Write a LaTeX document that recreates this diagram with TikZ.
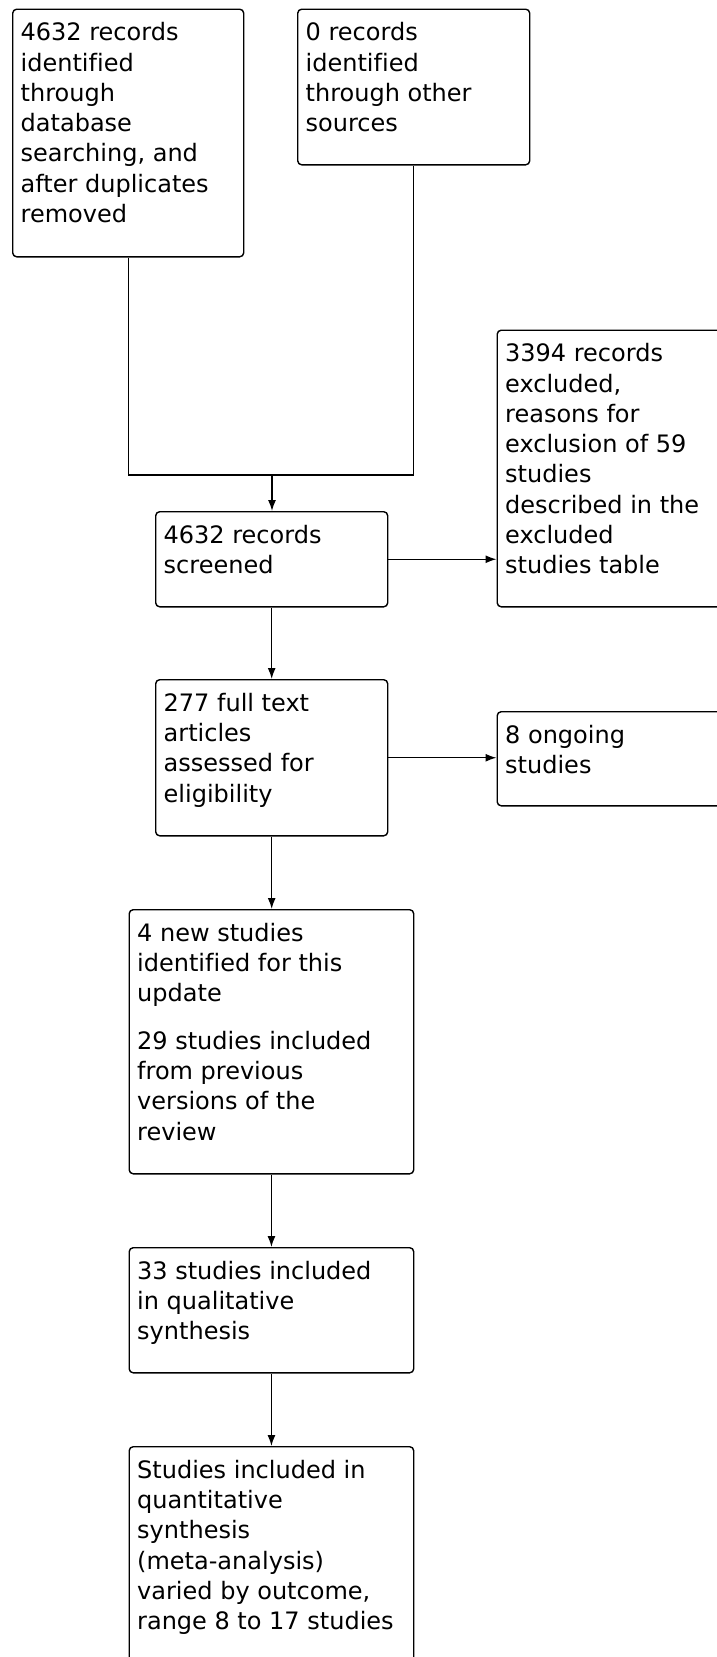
\documentclass[tikz,border=0pt]{standalone}
\usepackage{fontspec}
\setmainfont[Ligatures=NoCommon]{DejaVu Sans}
\usetikzlibrary{arrows.meta}

\begin{document}
\begin{tikzpicture}[x=1pt,y=-1pt,
    flowbox/.style={draw=black, line width=1.4pt, rounded corners=4pt, anchor=north west,
      inner xsep=8pt, inner ysep=10.3pt, font=\fontsize{24}{30.3}\selectfont},
    flowarrow/.style={line width=1.4pt, -{Latex[length=11pt,width=8pt]}}]
  \useasboundingbox (0,0) rectangle (716,1657);

  \node[flowbox] (recA) at (12,8.5) {\parbox[t][227pt][t]{215pt}{\raggedright\strut 4632 records\\ identified\\ through\\ database\\ searching, and\\ after duplicates\\ removed}};
  \node[flowbox] (recB) at (297,8.5) {\parbox[t][135pt][t]{216pt}{\raggedright\strut 0 records\\ identified\\ through other\\ sources}};
  \node[flowbox] (screen) at (155,511) {\parbox[t][74.5pt][t]{216pt}{\raggedright\strut 4632 records\\ screened}};
  \node[flowbox] (excl) at (496.5,329.5) {\parbox[t][256pt][t]{224pt}{\raggedright\strut 3394 records\\ excluded,\\ reasons for\\ exclusion of 59\\ studies\\ described in the\\ excluded\\ studies table}};
  \node[flowbox] (full) at (155,679) {\parbox[t][135.5pt][t]{216pt}{\raggedright\strut 277 full text\\ articles\\ assessed for\\ eligibility}};
  \node[flowbox] (ongoing) at (496.5,711) {\parbox[t][73.5pt][t]{224pt}{\raggedright\strut 8 ongoing\\ studies}};
  \node[flowbox] (incl) at (128.5,909) {\parbox[t][243.5pt][t]{268.5pt}{\raggedright\strut 4 new studies\\ identified for this\\ update\\[17pt] 29 studies included\\ from previous\\ versions of the\\ review}};
  \node[flowbox] (qual) at (128.5,1247) {\parbox[t][104.5pt][t]{268.5pt}{\raggedright\strut 33 studies included\\ in qualitative\\ synthesis}};
  \node[flowbox] (quant) at (128.5,1446) {\parbox[t][219.5pt][t]{268.5pt}{\raggedright\strut Studies included in\\ quantitative\\ synthesis\\ (meta-analysis)\\ varied by outcome,\\ range 8 to 17 studies}};

  \coordinate (merge) at (272,475);
  \draw[line width=1.4pt] (recA.south) |- (merge) -| (recB.south);
  \draw[flowarrow] (merge) -- (merge |- screen.north);
  \draw[flowarrow] (screen.east) -- (screen.east -| excl.west);
  \draw[flowarrow] (screen.south) -- (full.north);
  \draw[flowarrow] (full.east) -- (full.east -| ongoing.west);
  \draw[flowarrow] (full.south) -- (full.south |- incl.north);
  \draw[flowarrow] (incl.south) -- (qual.north);
  \draw[flowarrow] (qual.south) -- (quant.north);
\end{tikzpicture}
\end{document}
